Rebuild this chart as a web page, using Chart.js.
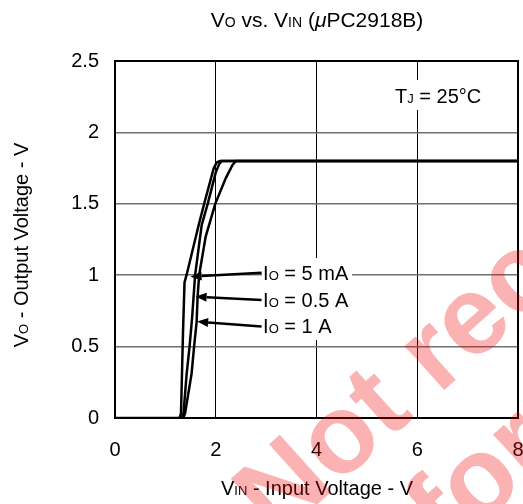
<!DOCTYPE html>
<html><head><meta charset="utf-8">
<script src="https://cdn.jsdelivr.net/npm/chart.js@4/dist/chart.umd.min.js"></script>
<style>html,body{margin:0;padding:0;background:#fff}#wrap{width:523px;height:504px}</style>
</head><body><div id="wrap"><canvas id="c" width="523" height="504"></canvas></div>
<script>
// ---- data ----
const xTickValues = [0, 2, 4, 6, 8];
const yTickValues = [0, 0.5, 1, 1.5, 2, 2.5];
const seriesLabels = ['IO = 5 mA', 'IO = 0.5 A', 'IO = 1 A'];
const vin5mA  = [0, 1.28, 1.31, 1.35, 1.38, 1.42, 1.66, 1.77, 1.96, 2.02, 2.08, 8];
const vo5mA   = [0, 0,    0.03, 0.6,  0.95, 1.0,  1.35, 1.5,  1.75, 1.79, 1.8,  1.8];
const vin05A  = [1.33, 1.36, 1.42, 1.48, 1.53, 1.56, 1.59, 1.72, 1.84, 2.0,  2.07, 2.12, 8];
const vo05A   = [0,    0.03, 0.3,  0.5,  0.7,  0.85, 1.0,  1.35, 1.5,  1.72, 1.78, 1.8,  1.8];
const vin1A   = [1.35, 1.39, 1.52, 1.57, 1.62, 1.64, 1.67, 1.80, 1.99, 2.2,  2.33, 2.4, 8];
const vo1A    = [0,    0.03, 0.31, 0.5,  0.67, 0.85, 1.0,  1.27, 1.5,  1.68, 1.77, 1.8, 1.8];
// annotation anchors (data units): label position and arrow tip
const labelPos = [[2.94, 1.019], [2.94, 0.83], [2.94, 0.646]];
const arrowTail = [[2.91, 1.017], [2.91, 0.826], [2.91, 0.64]];
const arrowTip = [[1.50, 0.99], [1.60, 0.85], [1.63, 0.675]];

const FONT = '"Liberation Sans", Arial, Helvetica, sans-serif';
const toXY = (xs, ys) => xs.map((x, i) => ({x, y: ys[i]}));

function fnt(size, style) { return (style || '') + ' ' + size + 'px ' + FONT; }
function rich(ctx, segs, x, y, align) {
  let w = 0;
  const ws = segs.map(s => { ctx.font = fnt(s[1], s[2]); const m = ctx.measureText(s[0]).width; w += m; return m; });
  let sx = align === 'center' ? x - w / 2 : (align === 'right' ? x - w : x);
  ctx.textAlign = 'left'; ctx.textBaseline = 'alphabetic';
  segs.forEach((s, i) => { ctx.font = fnt(s[1], s[2]); ctx.fillText(s[0], sx, y); sx += ws[i]; });
  return w;
}

const deco = {
  id: 'deco',
  afterDatasetsDraw(chart) {
    const {ctx, chartArea: a, scales: {x, y}} = chart;
    ctx.save();
    // white boxes behind annotation texts
    ctx.fillStyle = '#fff';
    ctx.fillRect(262, 258, 90, 82);
    ctx.fillRect(390, 80, 95, 30);
    // arrows
    ctx.strokeStyle = '#000'; ctx.fillStyle = '#000'; ctx.lineWidth = 2.5;
    for (let i = 0; i < 3; i++) {
      const tx = x.getPixelForValue(arrowTail[i][0]), ty = y.getPixelForValue(arrowTail[i][1]);
      const hx = x.getPixelForValue(arrowTip[i][0]), hy = y.getPixelForValue(arrowTip[i][1]);
      const ang = Math.atan2(hy - ty, hx - tx);
      const L = 11, W = 4.5;
      const bx = hx - L * Math.cos(ang), by = hy - L * Math.sin(ang);
      ctx.beginPath(); ctx.moveTo(tx, ty); ctx.lineTo(bx, by); ctx.stroke();
      ctx.beginPath(); ctx.moveTo(hx, hy);
      ctx.lineTo(bx + W * Math.sin(ang), by - W * Math.cos(ang));
      ctx.lineTo(bx - W * Math.sin(ang), by + W * Math.cos(ang));
      ctx.closePath(); ctx.fill();
    }
    // annotation labels
    ctx.fillStyle = '#000';
    for (let i = 0; i < 3; i++) {
      const px = x.getPixelForValue(labelPos[i][0]), py = y.getPixelForValue(labelPos[i][1]) + 7.5;
      const t = seriesLabels[i];
      rich(ctx, [[t.charAt(0), 20], [t.charAt(1), 13], [t.slice(2), 20]], px, py, 'left');
    }
    rich(ctx, [['T', 20], ['J', 13], [' = 25\u00B0C', 20]], 395, 103, 'left');
    // plot border
    ctx.strokeStyle = '#000'; ctx.lineWidth = 2;
    ctx.strokeRect(a.left, a.top, a.right - a.left, a.bottom - a.top);
    ctx.restore();
  },
  afterDraw(chart) {
    const {ctx} = chart;
    ctx.save();
    ctx.fillStyle = '#000';
    // chart title
    rich(ctx, [['V', 21], ['O', 14], [' vs. V', 21], ['IN', 14], [' (', 21], ['\u03BC', 21, 'italic'], ['PC2918B)', 21]], 317, 27, 'center');
    // x axis title
    rich(ctx, [['V', 20], ['IN', 13], [' - Input Voltage - V', 20]], 317, 495, 'center');
    // y axis title
    ctx.save(); ctx.translate(28, 245); ctx.rotate(-Math.PI / 2);
    rich(ctx, [['V', 20], ['O', 13], [' - Output Voltage - V', 20]], 0, 0, 'center');
    ctx.restore();
    // watermark
    ctx.save();
    ctx.translate(642, 212); ctx.rotate(-42 * Math.PI / 180);
    ctx.fillStyle = 'rgba(240,0,0,0.3)';
    ctx.font = 'bold 112px ' + FONT;
    ctx.textAlign = 'center'; ctx.textBaseline = 'alphabetic';
    ctx.fillText('Not recommended', 0, 0);
    ctx.fillText('for new design', 22, 125);
    ctx.restore();
    ctx.restore();
  }
};

const lineDs = (label, data) => ({label, data, borderColor: '#000', borderWidth: 2.5, pointRadius: 0, tension: 0, fill: false});

new Chart(document.getElementById('c'), {
  type: 'line',
  data: {
    datasets: [
      lineDs(seriesLabels[0], toXY(vin5mA, vo5mA)),
      lineDs(seriesLabels[1], toXY(vin05A, vo05A)),
      lineDs(seriesLabels[2], toXY(vin1A, vo1A))
    ]
  },
  options: {
    responsive: false, animation: false, devicePixelRatio: 1,
    layout: {padding: {left: 0, right: 5, top: 61, bottom: 0}},
    plugins: {legend: {display: false}, tooltip: {enabled: false}, title: {display: false}},
    scales: {
      x: {
        type: 'linear', min: 0, max: 8,
        afterBuildTicks: s => { s.ticks = xTickValues.map(v => ({value: v})); },
        afterFit: s => { s.height = 86; s.paddingLeft = 0; s.paddingRight = 0; },
        ticks: {color: '#000', font: {family: FONT, size: 20}, padding: 20, maxRotation: 0, callback: v => String(v)},
        grid: {drawTicks: false, color: c => (c.tick && (c.tick.value === 0 || c.tick.value === 8)) ? 'rgba(0,0,0,0)' : '#000', lineWidth: 1},
        border: {display: false}
      },
      y: {
        type: 'linear', min: 0, max: 2.5,
        afterBuildTicks: s => { s.ticks = yTickValues.map(v => ({value: v})); },
        afterFit: s => { s.width = 115; s.paddingTop = 0; s.paddingBottom = 0; },
        ticks: {color: '#000', font: {family: FONT, size: 20}, padding: 16, callback: v => String(v)},
        grid: {drawTicks: false, color: c => (c.tick && (c.tick.value === 0 || c.tick.value === 2.5)) ? 'rgba(0,0,0,0)' : '#707070', lineWidth: 1.5},
        border: {display: false}
      }
    }
  },
  plugins: [deco]
});
</script></body></html>
